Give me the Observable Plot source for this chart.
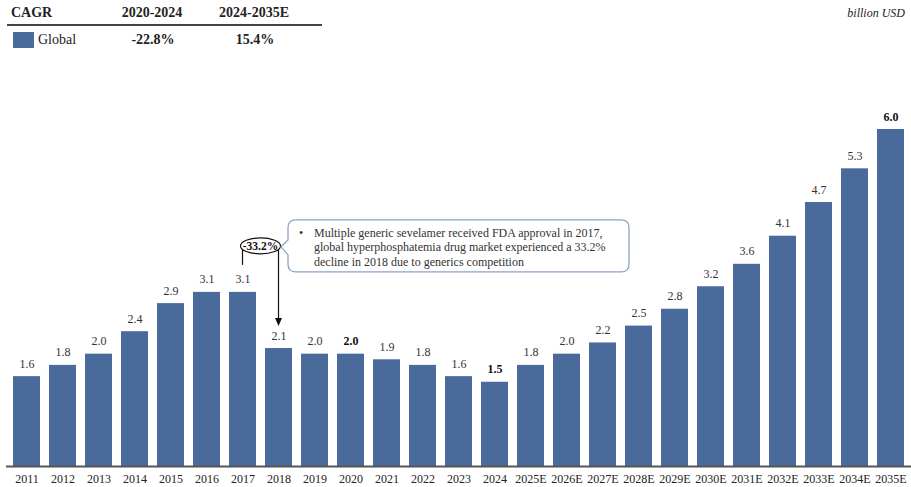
<!DOCTYPE html>
<html><head><meta charset="utf-8">
<script src="https://cdn.jsdelivr.net/npm/d3@7"></script>
<script src="https://cdn.jsdelivr.net/npm/@observablehq/plot@0.6"></script>
<style>
body{margin:0;background:#fff;font-family:"Liberation Serif","Times New Roman",serif;}
#wrap{position:relative;width:911px;height:487px;overflow:hidden;}
#head{position:relative;height:60px;color:#222;}
#head span{position:absolute;white-space:nowrap;line-height:14px;font-size:14px;}
#head .c{transform:translateX(-50%);}
#head .b{font-weight:bold;}
#chart svg{display:block;}
</style></head><body>
<div id="wrap"><div id="head"></div><div id="chart"></div></div>
<script>
const years = ["2011","2012","2013","2014","2015","2016","2017","2018","2019","2020","2021","2022","2023","2024","2025E","2026E","2027E","2028E","2029E","2030E","2031E","2032E","2033E","2034E","2035E"];
const values = [1.6,1.8,2.0,2.4,2.9,3.1,3.1,2.1,2.0,2.0,1.9,1.8,1.6,1.5,1.8,2.0,2.2,2.5,2.8,3.2,3.6,4.1,4.7,5.3,6.0];
const labels = ["1.6","1.8","2.0","2.4","2.9","3.1","3.1","2.1","2.0","2.0","1.9","1.8","1.6","1.5","1.8","2.0","2.2","2.5","2.8","3.2","3.6","4.1","4.7","5.3","6.0"];
const boldYears = ["2020","2024","2035E"];
const cagrTitle = "CAGR";
const cagrPeriods = ["2020-2024","2024-2035E"];
const cagrValues = ["-22.8%","15.4%"];
const seriesName = "Global";
const unitLabel = "billion USD";
const noteFrom = "2017", noteTo = "2018";
const noteChange = "-33.2%";
const noteLines = ["Multiple generic sevelamer received FDA approval in 2017,","global hyperphosphatemia drug market experienced a 33.2%","decline in 2018 due to generics competition"];

const barColor = "#4a6a9c";

// Header (CAGR table + unit)
const head = document.getElementById("head");
function addSpan(txt, style, cls){const s=document.createElement("span");s.textContent=txt;if(cls)s.className=cls;Object.assign(s.style,style);head.appendChild(s);return s;}
addSpan(cagrTitle,{left:"11px",top:"6px"},"b");
const colCenters=[152,254];
cagrPeriods.forEach((p,i)=>addSpan(p,{left:colCenters[i]+"px",top:"6px"},"b c"));
const rule=document.createElement("div");Object.assign(rule.style,{position:"absolute",left:"7px",top:"24px",width:"315px",height:"2px",background:"#444"});head.appendChild(rule);
const sw=document.createElement("div");Object.assign(sw.style,{position:"absolute",left:"13px",top:"32px",width:"21px",height:"16px",background:barColor});head.appendChild(sw);
addSpan(seriesName,{left:"38px",top:"33px"});
cagrValues.forEach((v,i)=>addSpan(v,{left:(colCenters[i]+1)+"px",top:"33px"},"b c"));
addSpan(unitLabel,{right:"6px",top:"6px",fontStyle:"italic",fontSize:"12px"});

const data = years.map((y,i)=>({year:y,value:values[i],label:labels[i],bold:boldYears.includes(y)}));

const plot = Plot.plot({
  width:911, height:427,
  marginLeft:6, marginRight:0, marginTop:69, marginBottom:21,
  style:{fontFamily:"'Liberation Serif', 'Times New Roman', serif", fontSize:"12px", color:"#222", background:"#fff"},
  x:{domain:years, paddingInner:0.25, paddingOuter:0.125, label:null, tickSize:0, tickPadding:8},
  y:{domain:[0,6], axis:null},
  marks:[
    Plot.barY(data,{x:"year",y:"value",fill:barColor}),
    Plot.ruleY([0],{stroke:"#555",strokeWidth:2}),
    Plot.text(data.filter(d=>!d.bold),{x:"year",y:"value",text:"label",dy:-9,lineAnchor:"bottom",fill:"#333"}),
    Plot.text(data.filter(d=>d.bold),{x:"year",y:"value",text:"label",dy:-9,lineAnchor:"bottom",fill:"#111",fontWeight:"bold"})
  ]
});
document.getElementById("chart").appendChild(plot);

// Annotation anchored to scales
const xs = plot.scale("x"), ys = plot.scale("y");
const bw = xs.bandwidth;
const iFrom = years.indexOf(noteFrom), iTo = years.indexOf(noteTo);
const cxA = xs.apply(noteFrom)+bw/2, cxB = xs.apply(noteTo)+bw/2;
const topA = ys.apply(values[iFrom]), topB = ys.apply(values[iTo]);
const svg = d3.select(plot);
const g = svg.append("g").attr("text-anchor","start");
const ecx=(cxA+cxB)/2, ecy=topA-46;
g.append("line").attr("x1",cxA).attr("x2",cxA).attr("y1",ecy+4).attr("y2",topA-27).attr("stroke","#111").attr("stroke-width",1.2);
g.append("line").attr("x1",cxB).attr("x2",cxB).attr("y1",ecy+4).attr("y2",topB-29).attr("stroke","#111").attr("stroke-width",1.2);
const tipY = topB-22;
g.append("path").attr("d",`M${cxB},${tipY} L${cxB-3.5},${tipY-8} L${cxB+3.5},${tipY-8} Z`).attr("fill","#111");
g.append("ellipse").attr("cx",ecx).attr("cy",ecy).attr("rx",20).attr("ry",8).attr("fill","#fff").attr("stroke","#111").attr("stroke-width",1.2);
g.append("text").attr("x",ecx).attr("y",ecy+4).attr("text-anchor","middle").attr("font-weight","bold").attr("font-size","11.5px").attr("fill","#111").text(noteChange);

const L = xs.apply(noteTo)+bw-4, T = topA-72, W = 341, H = 52, r = 8;
const R = L+W, B = T+H;
g.append("path").attr("d",
  `M${L+r},${T} H${R-r} Q${R},${T} ${R},${T+r} V${B-r} Q${R},${B} ${R-r},${B} H${L+r} Q${L},${B} ${L},${B-r} V${T+35} L${L-7},${T+27} L${L},${T+20} V${T+r} Q${L},${T} ${L+r},${T} Z`)
  .attr("fill","#fff").attr("stroke","#8ea2c6").attr("stroke-width",1.3);
g.append("text").attr("x",L+11).attr("y",T+17).attr("text-anchor","start").attr("font-size","12px").attr("fill","#333").text("•");
noteLines.forEach((t,i)=>g.append("text").attr("x",L+26).attr("y",T+17+i*14.5).attr("text-anchor","start").attr("font-size","12px").attr("fill","#333").text(t));
</script>
</body></html>
